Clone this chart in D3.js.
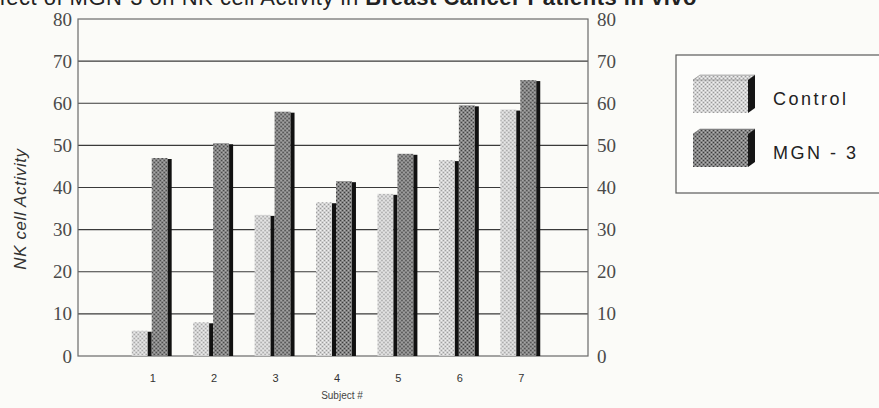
<!DOCTYPE html>
<html>
<head>
<meta charset="utf-8">
<script src="https://cdn.jsdelivr.net/npm/d3@7"></script>
<style>
  body { margin: 0; background: #fbfbf8; }
  svg { display: block; }
</style>
</head>
<body>
<svg id="chart" width="879" height="408"></svg>
<script>
// values
const subjects = ["1", "2", "3", "4", "5", "6", "7"];
const seriesNames = ["Control", "MGN - 3"];
const controlValues = [6, 8, 33.5, 36.5, 38.5, 46.5, 58.5];
const mgnValues = [47, 50.5, 58, 41.5, 48, 59.5, 65.5];
const yTicks = [0, 10, 20, 30, 40, 50, 60, 70, 80];

const titlePlain = "Effect of MGN-3 on NK cell Activity in ";
const titleBold = "Breast Cancer Patients in vivo";

const plot = {left: 78, right: 588, top: 19, bottom: 356};
const sideW = 4;

let svg = d3.select("svg#chart");

let x = d3.scaleBand()
    .domain(subjects)
    .range([121, 551])
    .paddingInner(0.35)
    .paddingOuter(0.175);

let x1 = d3.scaleBand()
    .domain(seriesNames)
    .range([0, x.bandwidth()]);

let y = d3.scaleLinear()
    .domain([0, 80])
    .range([plot.bottom, plot.top]);

// dotted halftone fills
function makePattern(defs, id, base, dark, light) {
  let p = defs.append("pattern")
      .attr("id", id)
      .attr("width", 4).attr("height", 4)
      .attr("patternUnits", "userSpaceOnUse");
  p.append("rect").attr("width", 4).attr("height", 4).attr("fill", base);
  [[0, 0], [2, 2]].forEach(function(d) {
    p.append("rect").attr("x", d[0]).attr("y", d[1]).attr("width", 1).attr("height", 1).attr("fill", dark);
  });
  [[2, 0], [0, 2]].forEach(function(d) {
    p.append("rect").attr("x", d[0]).attr("y", d[1]).attr("width", 1).attr("height", 1).attr("fill", light);
  });
}

let defs = svg.append("defs");
makePattern(defs, "patControl", "#d2d2d2", "#9a9a9a", "#f2f2f2");
makePattern(defs, "patMgn", "#858585", "#3c3c3c", "#b4b4b4");
let fills = {"Control": "url(#patControl)", "MGN - 3": "url(#patMgn)"};

// title, cut at the top of the scan
let title = svg.append("text")
    .attr("x", 697)
    .attr("y", 5)
    .attr("text-anchor", "end")
    .attr("font-family", "Liberation Sans, Arial, sans-serif")
    .attr("font-size", "22px")
    .attr("letter-spacing", "0.5px")
    .attr("fill", "#222");
title.append("tspan").text(titlePlain);
title.append("tspan").attr("font-weight", "bold").text(titleBold);

// gridlines
svg.append("g").attr("class", "grid")
  .selectAll("line")
  .data(yTicks.filter(function(d) { return d > 0 && d < 80; }))
  .enter().append("line")
    .attr("x1", plot.left).attr("x2", plot.right)
    .attr("y1", function(d) { return y(d); })
    .attr("y2", function(d) { return y(d); })
    .attr("stroke", "#3a3a3a")
    .attr("stroke-width", 1.2);

// frame
svg.append("rect")
    .attr("x", plot.left).attr("y", plot.top)
    .attr("width", plot.right - plot.left)
    .attr("height", plot.bottom - plot.top)
    .attr("fill", "none")
    .attr("stroke", "#6a6a6a")
    .attr("stroke-width", 1.2);

// bars
let rows = subjects.map(function(s, i) {
  return [
    {subject: s, key: "Control", value: controlValues[i]},
    {subject: s, key: "MGN - 3", value: mgnValues[i]}
  ];
});

let groups = svg.append("g").attr("class", "bars")
  .selectAll("g")
  .data(rows)
  .enter().append("g")
    .attr("transform", function(d) { return "translate(" + x(d[0].subject) + ",0)"; });

let bars = groups.selectAll("g")
  .data(function(d) { return d; })
  .enter().append("g");

bars.append("rect")
    .attr("x", function(d) { return x1(d.key); })
    .attr("y", function(d) { return y(d.value); })
    .attr("width", x1.bandwidth() - sideW)
    .attr("height", function(d) { return plot.bottom - y(d.value); })
    .attr("fill", function(d) { return fills[d.key]; });

bars.append("rect")
    .attr("x", function(d) { return x1(d.key) + x1.bandwidth() - sideW; })
    .attr("y", function(d) { return y(d.value) + 1; })
    .attr("width", sideW)
    .attr("height", function(d) { return plot.bottom - y(d.value) - 1; })
    .attr("fill", "#111");

// axes labels
let yLeft = svg.append("g")
    .attr("transform", "translate(" + plot.left + ",0)")
    .call(d3.axisLeft(y).tickValues(yTicks).tickSize(0).tickPadding(6));
let yRight = svg.append("g")
    .attr("transform", "translate(" + plot.right + ",0)")
    .call(d3.axisRight(y).tickValues(yTicks).tickSize(0).tickPadding(9));

[yLeft, yRight].forEach(function(g) {
  g.select(".domain").remove();
  g.selectAll("text")
    .attr("font-family", "Liberation Serif, Times New Roman, serif")
    .attr("font-size", "19px")
    .attr("fill", "#4a4a4a");
});

let xAxis = svg.append("g")
    .attr("transform", "translate(1," + plot.bottom + ")")
    .call(d3.axisBottom(x).tickSize(0).tickPadding(18));
xAxis.select(".domain").remove();
xAxis.selectAll("text")
    .attr("font-family", "Liberation Sans, Arial, sans-serif")
    .attr("font-size", "11px")
    .attr("fill", "#333");

svg.append("text")
    .attr("x", 342)
    .attr("y", 399)
    .attr("text-anchor", "middle")
    .attr("font-family", "Liberation Sans, Arial, sans-serif")
    .attr("font-size", "10px")
    .attr("fill", "#444")
    .text("Subject #");

svg.append("text")
    .attr("transform", "translate(26,209) rotate(-90)")
    .attr("text-anchor", "middle")
    .attr("font-family", "Liberation Sans, Arial, sans-serif")
    .attr("font-style", "italic")
    .attr("font-size", "17px")
    .attr("letter-spacing", "0.6px")
    .attr("fill", "#333")
    .text("NK cell Activity");

// legend
let legend = svg.append("g").attr("class", "legend");

legend.append("rect")
    .attr("x", 676).attr("y", 55)
    .attr("width", 240).attr("height", 138)
    .attr("fill", "#fdfdfb")
    .attr("stroke", "#5a5a5a")
    .attr("stroke-width", 1.2);

let items = legend.selectAll("g.item")
  .data(seriesNames)
  .enter().append("g")
    .attr("class", "item")
    .attr("transform", function(d, i) { return "translate(693," + (80 + i * 54) + ")"; });

items.append("rect")
    .attr("width", 55).attr("height", 33)
    .attr("fill", function(d) { return fills[d]; });

items.append("path")
    .attr("d", "M0,0 L7,-5 L62,-5 L55,0 Z")
    .attr("fill", function(d) { return fills[d]; })
    .attr("stroke", "#777")
    .attr("stroke-width", 0.5);

items.append("path")
    .attr("d", "M55,0 L62,-5 L62,28 L55,33 Z")
    .attr("fill", "#151515");

items.append("text")
    .attr("x", 80)
    .attr("y", 25)
    .attr("font-family", "Liberation Sans, Arial, sans-serif")
    .attr("font-size", "18px")
    .attr("letter-spacing", "2.5px")
    .attr("fill", "#222")
    .text(function(d) { return d; });
</script>
</body>
</html>
